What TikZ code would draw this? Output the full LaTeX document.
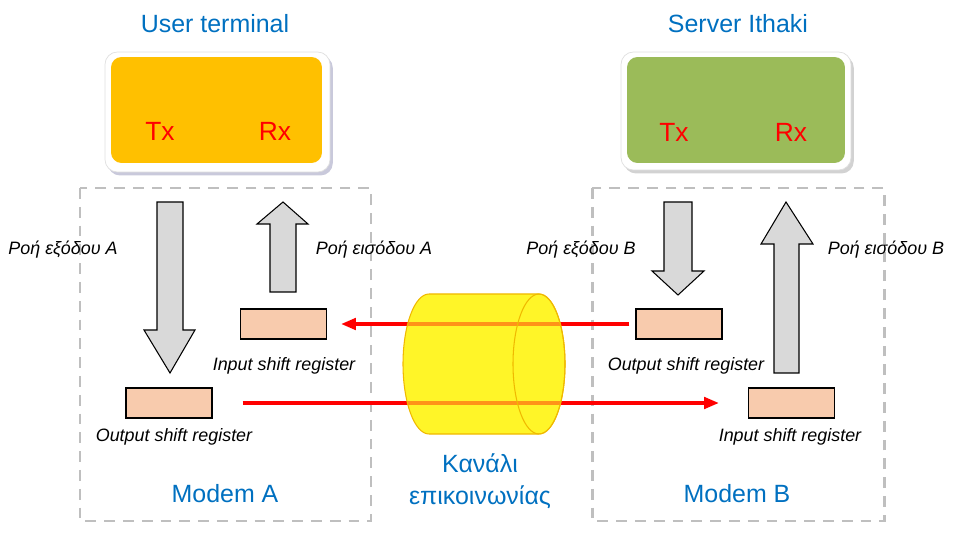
\documentclass[tikz,border=0pt]{standalone}
\usepackage{fontspec}
\setmainfont{Liberation Sans}
\usetikzlibrary{arrows.meta,shadows,positioning}
\definecolor{titleblue}{RGB}{0,112,192}
\definecolor{termorange}{RGB}{255,192,0}
\definecolor{termgreen}{RGB}{155,187,89}
\definecolor{regpeach}{RGB}{248,203,173}
\definecolor{cylline}{RGB}{240,185,0}
\definecolor{cylfill}{RGB}{255,245,40}

\begin{document}
\begin{tikzpicture}[x=0.02cm,y=-0.02cm,>={Triangle[length=8.5pt,width=6.5pt]},
    frame node/.style={rectangle,rounded corners=7pt,fill=white,draw=gray!25,
      inner sep=0pt},
    term node/.style={rectangle,rounded corners=6pt,inner sep=0pt},
    title node/.style={font=\fontsize{14.2}{17}\selectfont,text=titleblue},
    txrx node/.style={font=\fontsize{15}{17}\selectfont,text=red},
    reg node/.style={rectangle,fill=regpeach,draw=black,line width=0.6pt,
      minimum width=1.72cm,minimum height=0.6cm,inner sep=0pt},
    label node/.style={font=\fontsize{10.2}{12}\selectfont\itshape},
    modem box/.style={draw=gray!50,line width=1.7pt,dash pattern=on 6.2pt off 4.5pt},
    block arrow/.style={fill=gray!30,draw=black,line width=0.6pt},
    red link/.style={->,red,line width=2pt},]

  \useasboundingbox (0,0) rectangle (953,540);

  % terminals
  \node[frame node,minimum width=4.5cm,minimum height=2.4cm,
    drop shadow={shadow xshift=1.6pt,shadow yshift=-2pt,fill=blue!20!gray!70}]
    (UserFrame) at (217.5,112) {};
  \node[term node,fill=termorange,minimum width=4.22cm,minimum height=2.12cm]
    (User) at (216.5,110) {};
  \node[frame node,minimum width=4.6cm,minimum height=2.36cm,
    drop shadow={shadow xshift=1.6pt,shadow yshift=-2pt,fill=gray!70}]
    (ServerFrame) at (736,111) {};
  \node[term node,fill=termgreen,minimum width=4.36cm,minimum height=2.12cm]
    (Server) at (736,110) {};

  \node[title node] (UserTitle) at (215,24) {User terminal};
  \node[title node] (ServerTitle) at (738,24) {Server Ithaki};

  \node[txrx node] (TxA) at (160,131) {Tx};
  \node[txrx node] (RxA) at (275,131) {Rx};
  \node[txrx node] (TxB) at (674,132) {Tx};
  \node[txrx node] (RxB) at (791,132) {Rx};

  % modems
  \draw[modem box] (80,188) rectangle (371,521);
  \draw[modem box] (592,188) rectangle (884,521);
  \node[title node] (ModemA) at (225,494) {Modem A};
  \node[title node] (ModemB) at (737,494) {Modem B};

  % data flows
  \draw[block arrow] (157,202) -- (183,202) -- (183,330) -- (195,330) -- (170,373)
    -- (144,330) -- (157,330) -- cycle;
  \draw[block arrow] (270,292) -- (270,224) -- (257,224) -- (283,202) -- (308,224)
    -- (296,224) -- (296,292) -- cycle;
  \draw[block arrow] (664,202) -- (692,202) -- (692,271) -- (704,271) -- (678,295)
    -- (652,271) -- (664,271) -- cycle;
  \draw[block arrow] (774,373) -- (774,244) -- (761,244) -- (786,202) -- (813,244)
    -- (799,244) -- (799,373) -- cycle;

  \node[label node] (FlowOutA) at (63,250) {Ροή εξόδου Α};
  \node[label node] (FlowInA) at (374,250) {Ροή εισόδου Α};
  \node[label node] (FlowOutB) at (581,250) {Ροή εξόδου Β};
  \node[label node] (FlowInB) at (886,250) {Ροή εισόδου Β};

  % shift registers
  \node[reg node] (InRegA) at (283.5,324) {};
  \node[reg node] (OutRegA) at (169,403) {};
  \node[reg node] (OutRegB) at (679,324) {};
  \node[reg node] (InRegB) at (791.5,403) {};

  \node[label node] (InRegALabel) at (284,366) {Input shift register};
  \node[label node] (OutRegALabel) at (174,437) {Output shift register};
  \node[label node] (OutRegBLabel) at (686,366) {Output shift register};
  \node[label node] (InRegBLabel) at (790,437) {Input shift register};

  \draw[red link,shorten <=0.12cm,shorten >=0.28cm] (OutRegB.west) -- (InRegA.east);
  \draw[red link,shorten <=0.6cm,shorten >=0.58cm] (OutRegA.east) -- (InRegB.west);

  % channel
  \path[fill=cylfill]
    (429,294) -- (539,294) arc[start angle=-90,end angle=90,x radius=26,y radius=70]
    -- (429,434) arc[start angle=90,end angle=270,x radius=26,y radius=70] -- cycle;
  \begin{scope}
    \clip (429,294) -- (539,294) arc[start angle=-90,end angle=90,x radius=26,y radius=70]
      -- (429,434) arc[start angle=90,end angle=270,x radius=26,y radius=70] -- cycle;
    \draw[red,line width=2pt,opacity=0.4] (OutRegB.west) -- (InRegA.east);
    \draw[red,line width=2pt,opacity=0.4] (OutRegA.east) -- (InRegB.west);
  \end{scope}
  \draw[cylline,line width=0.6pt]
    (429,294) -- (539,294) arc[start angle=-90,end angle=90,x radius=26,y radius=70]
    -- (429,434) arc[start angle=90,end angle=270,x radius=26,y radius=70] -- cycle;
  \draw[cylline,line width=0.6pt] (539,364) ellipse [x radius=26,y radius=70];

  \node[title node,align=center,font=\fontsize{14.2}{18.1}\selectfont]
    (Channel) at (480,481) {Κανάλι\\επικοινωνίας};
\end{tikzpicture}
\end{document}
